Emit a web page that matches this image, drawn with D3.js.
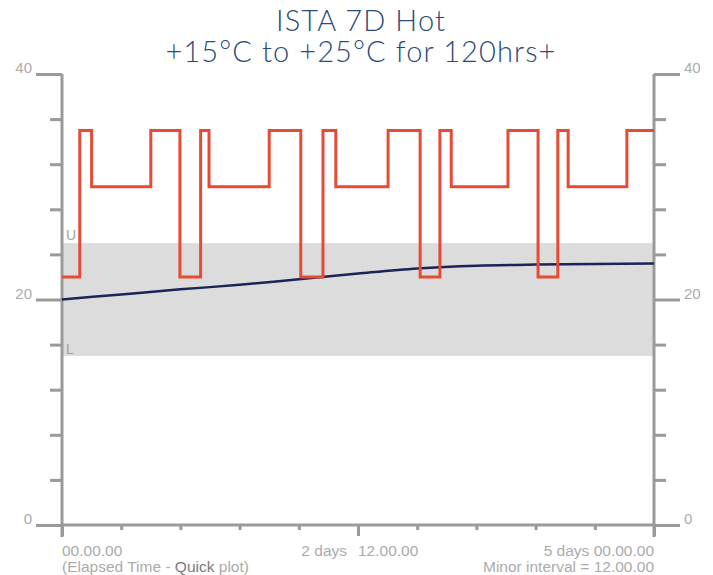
<!DOCTYPE html>
<html>
<head>
<meta charset="utf-8">
<script src="https://cdn.jsdelivr.net/npm/d3@7"></script>
<style>
  body { margin: 0; background: #fff; }
  svg { display: block; }
</style>
</head>
<body>
<svg id="chart" width="713" height="575"></svg>
<script>
// DATA
// chamber set point (step profile), hours vs degC
var stepHours = [0, 3.6, 6.0, 18.0, 23.9, 28.1, 29.8, 42.0, 48.4, 52.9, 55.5, 66.1, 72.6, 76.6, 78.9, 90.4, 96.5, 100.5, 102.6, 114.5, 120];
var stepTemps = [22, 35, 30, 35, 22, 35, 30, 35, 22, 35, 30, 35, 22, 35, 30, 35, 22, 35, 30, 35, 35];
// product temperature
var meanHours = [0, 12, 24, 36, 48, 60, 72, 84, 96, 108, 120];
var meanTemps = [20.0, 20.45, 20.9, 21.3, 21.8, 22.3, 22.75, 23.0, 23.1, 23.15, 23.2];
// limits
var limitLow = 15;
var limitHigh = 25;
// ticks
var yMajor = [0, 20, 40];
var yMinor = [4, 8, 12, 16, 24, 28, 32, 36];
var xMinor = [12, 24, 36, 48, 72, 84, 96, 108];
var xMajor = [0, 60, 120];

var titleLines = ['ISTA 7D Hot', '+15\u00B0C to +25\u00B0C for 120hrs+'];

//.................................................................................................//
// SETUP
var svg = d3.select('#chart');
var plotL = 62, plotR = 654, plotT = 74, plotB = 525;
var axisCol = '#9a9a9a';
var labelCol = '#ababab';
var labFont = '"Liberation Sans", Arial, sans-serif';

var x = d3.scaleLinear().domain([0, 120]).range([plotL, plotR]);
var y = d3.scaleLinear().domain([0, 40]).range([plotB, plotT]);

// Title
svg.selectAll('text.title')
   .data(titleLines)
   .enter().append('text')
   .attr('class', 'title')
   .attr('x', 361)
   .attr('y', function(d, i) { return 31 + i * 31; })
   .attr('text-anchor', 'middle')
   .style('font-family', 'Lato, "Open Sans", sans-serif')
   .style('font-weight', 300)
   .style('font-size', '29px')
   .style('letter-spacing', '1.1px')
   .style('fill', '#2b4a78')
   .text(function(d) { return d; });

// Limit band
svg.append('rect')
   .attr('x', x(0))
   .attr('y', y(limitHigh))
   .attr('width', x(120) - x(0))
   .attr('height', y(limitLow) - y(limitHigh))
   .style('fill', '#dcdcdc');

svg.append('text').attr('x', x(0) + 4).attr('y', y(limitHigh) - 3)
   .style('font-family', labFont).style('font-size', '14px')
   .style('fill', '#a0a0a0').text('U');
svg.append('text').attr('x', x(0) + 4).attr('y', y(limitLow) - 2)
   .style('font-family', labFont).style('font-size', '14px')
   .style('fill', '#a0a0a0').text('L');

//.................................................................................................//
// AXES
function styleAxis(g) {
    g.select('.domain').remove();
    g.selectAll('line').style('stroke', axisCol).style('stroke-width', 3);
    g.selectAll('text')
     .style('fill', labelCol)
     .style('font-family', labFont)
     .style('font-size', '15px');
}

// left minor + major
svg.append('g').attr('transform', 'translate(' + plotL + ',0)')
   .call(d3.axisLeft(y).tickValues(yMinor).tickSize(12).tickFormat(''))
   .call(styleAxis);
svg.append('g').attr('transform', 'translate(' + plotL + ',0)')
   .call(d3.axisLeft(y).tickValues(yMajor).tickSize(26).tickPadding(4).tickFormat(d3.format('d')))
   .call(styleAxis)
   .call(function(g) { g.selectAll('text').attr('dy', '-0.1em'); });
// right minor + major
svg.append('g').attr('transform', 'translate(' + plotR + ',0)')
   .call(d3.axisRight(y).tickValues(yMinor).tickSize(12).tickFormat(''))
   .call(styleAxis);
svg.append('g').attr('transform', 'translate(' + plotR + ',0)')
   .call(d3.axisRight(y).tickValues(yMajor).tickSize(26).tickPadding(4).tickFormat(d3.format('d')))
   .call(styleAxis)
   .call(function(g) { g.selectAll('text').attr('dy', '-0.1em'); });
// bottom minor ticks
svg.append('g').attr('transform', 'translate(0,' + plotB + ')')
   .call(d3.axisBottom(x).tickValues(xMinor).tickSize(5).tickFormat(''))
   .call(styleAxis);
svg.append('g').attr('transform', 'translate(0,' + plotB + ')')
   .call(d3.axisBottom(x).tickValues(xMajor).tickSize(11).tickFormat(''))
   .call(styleAxis);

// axis lines
svg.append('line').attr('x1', plotL).attr('x2', plotL).attr('y1', plotT).attr('y2', plotB + 12)
   .style('stroke', axisCol).style('stroke-width', 3);
svg.append('line').attr('x1', plotR).attr('x2', plotR).attr('y1', plotT).attr('y2', plotB + 12)
   .style('stroke', axisCol).style('stroke-width', 3);
svg.append('line').attr('x1', plotL).attr('x2', plotR).attr('y1', plotB).attr('y2', plotB)
   .style('stroke', axisCol).style('stroke-width', 3);

// time labels
function timeLabel(xp, yp, anchor, txt) {
    return svg.append('text').attr('x', xp).attr('y', yp).attr('text-anchor', anchor)
              .style('font-family', labFont).style('font-size', '15.5px')
              .style('fill', labelCol).text(txt);
}
timeLabel(x(0), 556, 'start', '00.00.00');
timeLabel(x(60) - 11, 556, 'end', '2 days');
timeLabel(x(60), 556, 'start', '12.00.00');
timeLabel(x(120), 556, 'end', '5 days 00.00.00');
timeLabel(x(120), 572, 'end', 'Minor interval = 12.00.00');
var el = timeLabel(x(0), 572, 'start', '(Elapsed Time - ');
el.append('tspan').style('fill', '#7a7a7a').text('Quick');
el.append('tspan').text(' plot)');

//.................................................................................................//
// SERIES
var stepData = stepHours.map(function(h, i) { return [h, stepTemps[i]]; });
var meanData = meanHours.map(function(h, i) { return [h, meanTemps[i]]; });

svg.append('path')
   .datum(meanData)
   .attr('d', d3.line().x(function(d) { return x(d[0]); }).y(function(d) { return y(d[1]); })
                .curve(d3.curveMonotoneX))
   .style('fill', 'none')
   .style('stroke', '#1d2258')
   .style('stroke-width', 2.5);

svg.append('path')
   .datum(stepData)
   .attr('d', d3.line().x(function(d) { return x(d[0]); }).y(function(d) { return y(d[1]); })
                .curve(d3.curveStepAfter))
   .style('fill', 'none')
   .style('stroke', '#e64b35')
   .style('stroke-width', 3);
</script>
</body>
</html>
